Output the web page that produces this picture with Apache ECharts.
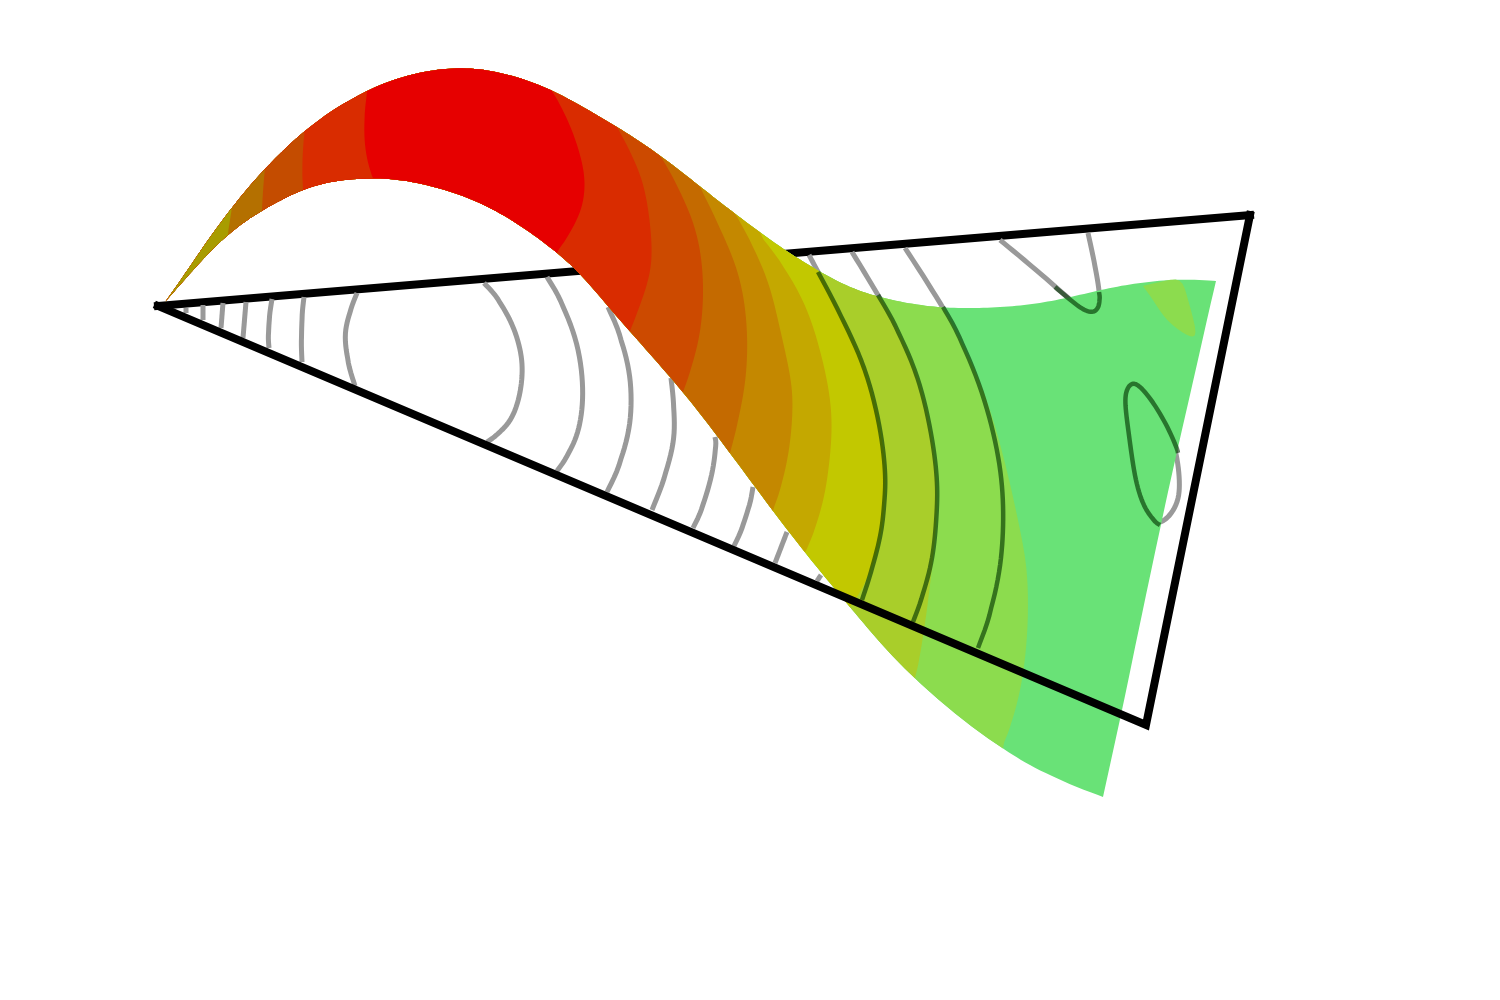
<!DOCTYPE html>
<html><head><meta charset="utf-8">
<style>html,body{margin:0;padding:0;background:#fff}#c{width:1500px;height:1000px;filter:blur(0.5px)}</style>
<script src="https://cdn.jsdelivr.net/npm/echarts@6/dist/echarts.min.js"></script>
</head><body><div id="c"></div>
<script>
// Frame of the base plane
const planeBack=[[158,306],[1250,215]];
const planeFront=[[1250,215],[1146,725],[158,306]];
// Surface silhouette
const surfaceTop=[[165,302],[183,277],[203,247],[230,210],[263,170],[310,125],[350,100],[383,83],[417,73],[450,68],[483,69],[517,77],[550,89],[583,107],[617,127],[650,148],[683,173],[717,200],[750,225],[783,249],[817,270],[850,288],[883,298],[917,305],[950,308],[983,308],[1017,306],[1047,302],[1080,295],[1113,287],[1147,282],[1180,279],[1216,281]];
const surfaceRight=[[1216,281],[1200,350],[1180,440],[1160,525],[1140,627],[1103,797]];
const surfaceBottom=[[165,302],[193,270],[228,233],[263,210],[300,190],[337,180],[377,178],[410,181],[450,191],[483,204],[517,223],[550,247],[577,270],[600,297],[633,335],[667,373],[700,413],[733,457],[770,507],[813,563],[847,603],[880,643],[913,677],[947,707],[980,733],[1013,755],[1047,775],[1103,797]];
// Colour band boundaries
const bandR9=[[943,307],[967,353],[990,407],[1010,483],[1022,540],[1028,580],[1027,647],[1017,707],[1003,745]];
const bandR8=[[880,297],[907,347],[927,407],[937,480],[935,543],[923,640],[915,678]];
const bandR7=[[818,270],[850,333],[873,390],[885,460],[885,490],[883,520],[877,553],[862,590],[850,606]];
const bandR6=[[760,235],[800,290],[820,350],[832,407],[830,457],[822,510],[805,553]];
const bandR5=[[735,213],[765,270],[777,317],[790,373],[793,410],[787,467],[773,510]];
const bandR4=[[700,187],[728,245],[743,290],[748,347],[743,400],[730,453]];
const bandR3=[[660,155],[690,210],[702,260],[703,307],[697,350],[683,392]];
const bandR2=[[617,127],[637,165],[647,200],[652,245],[650,273],[642,300],[630,331]];
const bandR1=[[550,88],[567,117],[582,160],[585,190],[578,220],[557,252]];
const bandL1=[[367,92],[363,137],[370,170],[373,178]];
const bandL2=[[305,128],[302,160],[303,188]];
const bandL3=[[265,168],[263,190],[262,210]];
const bandL4=[[232,207],[228,233]];
const bandColors=['#8cdc4e','#a9ce2a','#c2c800','#c4a800','#c48800','#c46a00','#cc4a00','#d92c00','#e60000','#d92c00','#c44c00','#b47000','#a89c00'];
const greenColor='#69e277';
const patchTopRight=[[1143,286],[1160,282],[1180,280],[1188,300],[1196,333],[1187,335],[1167,320],[1153,300]];
// Contours on the base plane
const contourA=[[186,308],[186,313]];
const contourB=[[203,305],[203,320]];
const contourC=[[223,303],[221,328]];
const contourD=[[246,302],[243,338]];
const contourE=[[272,299],[268,327],[269,348]];
const contourF=[[304,297],[301,327],[302,362]];
const contourG=[[357,293],[347,320],[344,347],[355,386]];
const contourH=[[484,283],[507,310],[520,347],[523,373],[517,410],[503,430],[487,442]];
const contourI=[[547,277],[570,318],[583,370],[582,417],[573,447],[557,471]];
const contourJ=[[608,307],[627,353],[632,400],[627,447],[607,492]];
const contourK=[[671,378],[675,420],[672,457],[652,510]];
const contourL=[[715,437],[716,453],[707,497],[693,528]];
const contourM=[[753,487],[747,517],[734,546]];
const contourN=[[787,532],[775,563]];
const contourO=[[821,575],[817,581]];
const contourP=[[809,255],[818,272],[850,333],[873,390],[885,460],[885,490],[883,520],[877,553],[862,600]];
const contourQ=[[852,252],[878,295],[907,347],[927,407],[937,473],[937,500],[935,543],[927,583],[913,622]];
const contourR=[[905,248],[943,307],[970,357],[993,427],[1003,487],[1003,537],[997,593],[978,648]];
const contourS=[[1000,240],[1040,273],[1067,297],[1083,310],[1095,313],[1100,303],[1098,280],[1088,233]];
const contourT=[[1132,382],[1142,388],[1160,412],[1175,443],[1180,483],[1177,507],[1160,525],[1150,517],[1138,493],[1132,457],[1126,413],[1125,393],[1132,382]];
// Parts of those contours that lie over the surface
const overP=[[818,272],[850,333],[873,390],[885,460],[885,490],[883,520],[877,553],[862,600]];
const overQ=[[878,295],[907,347],[927,407],[937,473],[937,500],[935,543],[927,583],[913,622]];
const overR=[[943,307],[970,357],[993,427],[1003,487],[1003,537],[997,593],[978,648]];
const overS=[[1055,287],[1067,297],[1083,310],[1095,313],[1100,303],[1099,292]];
const overT=[[1178,453],[1175,443],[1160,412],[1142,388],[1132,382],[1125,393],[1126,413],[1132,457],[1138,493],[1150,517],[1160,525]];

// Curve drawing helpers: smooth the outline between the read points
function ease(c,w){
  return c.map((p,i)=>{
    if(i===0||i===c.length-1) return p;
    const r=Math.min(w,i,c.length-1-i);let sx=0,sy=0;
    for(let j=i-r;j<=i+r;j++){sx+=c[j][0];sy+=c[j][1];}
    return [sx/(2*r+1),sy/(2*r+1)];
  });
}
function curve(p,n,w){
  const out=[];
  for(let i=0;i<p.length-1;i++){
    const a=p[Math.max(i-1,0)],b=p[i],c=p[i+1],d=p[Math.min(i+2,p.length-1)];
    for(let s=0;s<n;s++){
      const t=s/n,t2=t*t,t3=t2*t;
      out.push([0,1].map(k=>0.5*(2*b[k]+(c[k]-a[k])*t+(2*a[k]-5*b[k]+4*c[k]-d[k])*t2+(3*b[k]-a[k]-3*c[k]+d[k])*t3)));
    }
  }
  out.push(p[p.length-1]);
  return ease(out,w);
}
const topC=curve(surfaceTop,8,6), botC=curve(surfaceBottom,8,6), rightC=curve(surfaceRight,8,8);
function edgeY(e,x){
  for(let i=0;i<e.length-1;i++){
    if(x>=e[i][0]&&x<=e[i+1][0]){const t=(x-e[i][0])/((e[i+1][0]-e[i][0])||1);return e[i][1]+t*(e[i+1][1]-e[i][1]);}
  }
  return e[e.length-1][1];
}
function leftOf(b){
  const c=curve(b,8,5), x0=c[0][0], x1=c[c.length-1][0];
  c[0]=[x0,edgeY(topC,x0)]; c[c.length-1]=[x1,edgeY(botC,x1)];
  return topC.filter(p=>p[0]<x0).concat(c.slice(),botC.filter(p=>p[0]<x1).reverse());
}
const wholeSurface=topC.concat(rightC,botC.slice().reverse());
const bandList=[bandR9,bandR8,bandR7,bandR6,bandR5,bandR4,bandR3,bandR2,bandR1,bandL1,bandL2,bandL3,bandL4];
const polys=[{pts:wholeSurface,color:greenColor}];
polys.push({pts:curve(patchTopRight.concat([patchTopRight[0]]),4,1),color:bandColors[0]});
bandList.forEach((b,i)=>polys.push({pts:leftOf(b),color:bandColors[i]}));

const baseContours=[contourA,contourB,contourC,contourD,contourE,contourF,contourG,contourH,contourI,contourJ,contourK,contourL,contourM,contourN,contourO,contourP,contourQ,contourR,contourS,contourT];
const overContours=[overP,overQ,overR,overS,overT];

function straight(d,color,w,z){
  return {type:'line',data:d,symbol:'none',showSymbol:false,smooth:false,z:z,silent:true,clip:false,
    lineStyle:{color:color,width:w,cap:'square',join:'miter'},animation:false};
}
function curves(list,color,w,z){
  return {type:'custom',z:z,silent:true,clip:false,animation:false,
    data:list.map((_,i)=>[i]),
    renderItem:function(params,api){
      const c=curve(list[params.dataIndex],8,6);
      return {type:'polyline',shape:{points:c.map(p=>api.coord(p))},
        style:{stroke:color,lineWidth:w,fill:null,lineJoin:'round'}};
    }};
}
const chart=echarts.init(document.getElementById('c'),null,{renderer:'canvas'});
chart.setOption({
  animation:false,backgroundColor:'#fff',
  grid:{left:0,right:0,top:0,bottom:0},
  xAxis:{type:'value',min:0,max:1500,show:false},
  yAxis:{type:'value',min:0,max:1000,inverse:true,show:false},
  tooltip:{show:false},
  series:[
    straight(planeBack,'#000',8,1),
    curves(baseContours,'#999999',5,2),
    {type:'custom',z:3,silent:true,clip:false,animation:false,
     data:polys.map((_,i)=>[i]),
     renderItem:function(params,api){
       const P=polys[params.dataIndex];
       return {type:'polygon',shape:{points:P.pts.map(p=>api.coord(p))},
         style:{fill:P.color,stroke:null}};
     }},
    curves(overContours,'rgba(0,50,0,0.62)',4.5,4),
    straight(planeFront,'#000',8,5)
  ]
});
</script></body></html>
